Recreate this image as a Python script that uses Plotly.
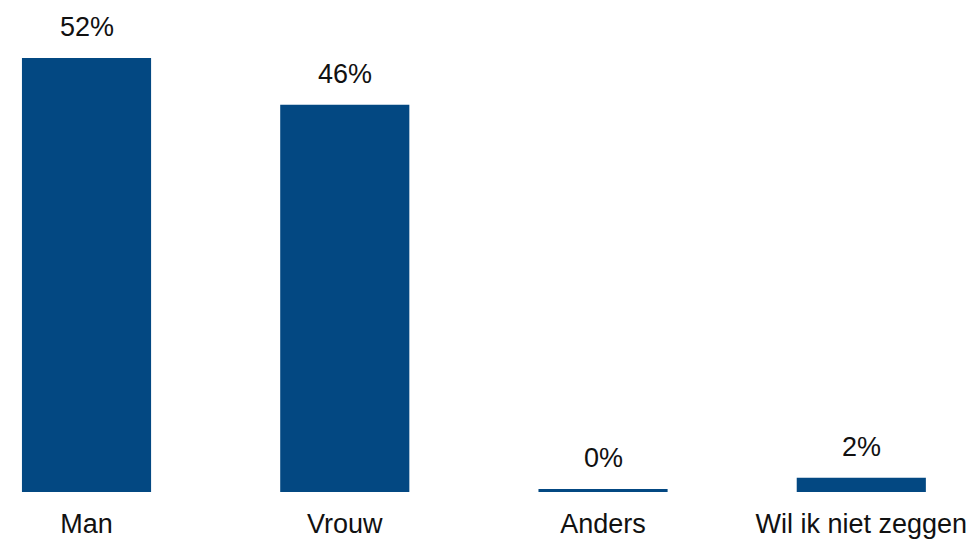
import plotly.graph_objects as go

categories = ["Man", "Vrouw", "Anders", "Wil ik niet zeggen"]
values = [52, 46.4, 0.35, 1.7]
labels = ["52%", "46%", "0%", "2%"]

BAR_COLOR = "#034882"
FONT = dict(family="Liberation Sans, Arial, sans-serif", size=27, color="#111111")

fig = go.Figure(
    go.Bar(
        x=categories,
        y=values,
        marker=dict(color=BAR_COLOR, line=dict(width=0)),
        width=0.5,
        hoverinfo="skip",
        cliponaxis=False,
    )
)

for c, v, t in zip(categories, values, labels):
    fig.add_annotation(
        x=c, y=v, text=t, showarrow=False, yanchor="bottom",
        yshift=14, font=FONT,
    )

# the page body has an 8px margin, so the figure is sized to fill the rest
fig.update_layout(
    width=969,
    height=532,
    margin=dict(l=0, r=0, t=0, b=48, autoexpand=False),
    paper_bgcolor="white",
    plot_bgcolor="white",
    showlegend=False,
    font=FONT,
    bargap=0.5,
)
fig.update_xaxes(
    range=[-0.304, 3.448],
    showgrid=False,
    showline=False,
    zeroline=False,
    ticks="",
    tickfont=FONT,
    ticklabelstandoff=13,
    automargin=False,
)
fig.update_yaxes(
    range=[0, 57.99],
    visible=False,
    automargin=False,
)

fig.write_html("out.html")
